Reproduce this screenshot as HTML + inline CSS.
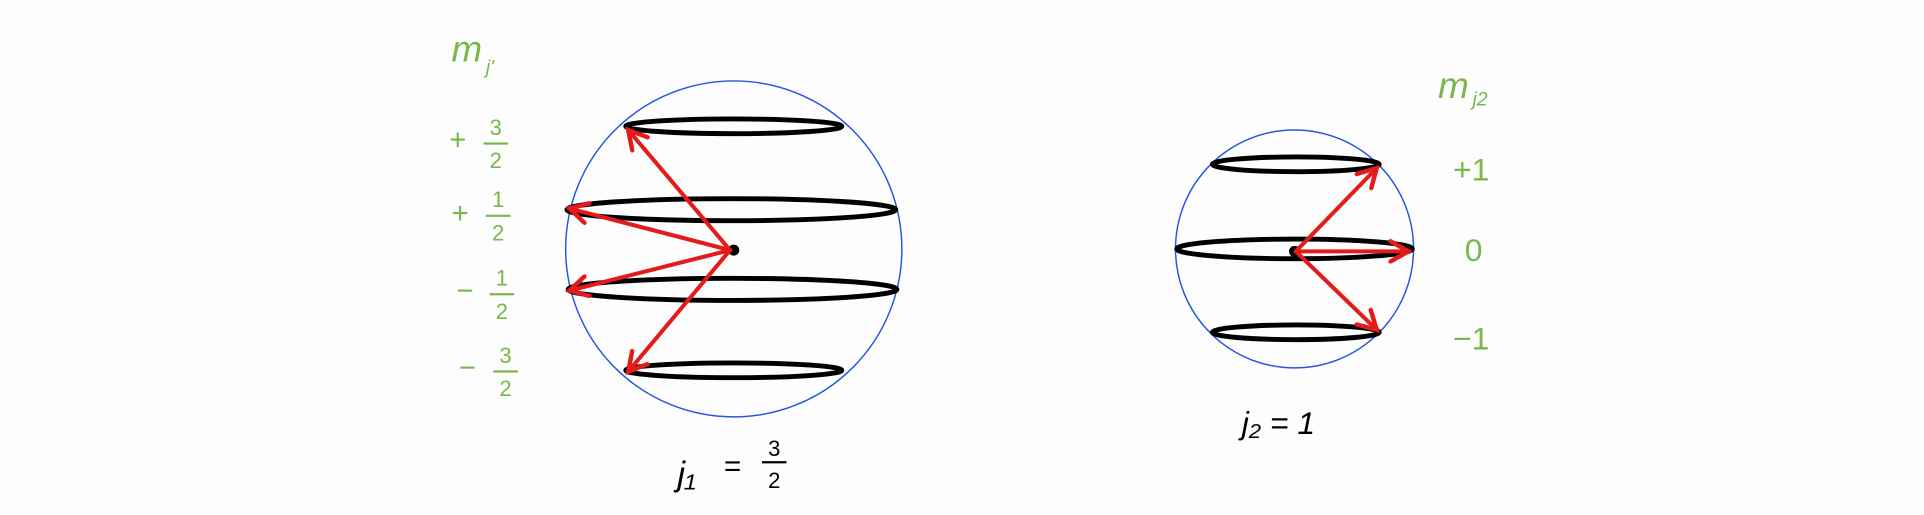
<!DOCTYPE html>
<html><head><meta charset="utf-8"><style>
html,body{margin:0;padding:0;background:#fdfdfd;}
svg{display:block;}
text{font-family:"Liberation Sans",sans-serif;}
.g{fill:#78b84a;}
</style></head><body>
<svg width="1924" height="515" viewBox="0 0 1568 420" preserveAspectRatio="none">
<defs>
<marker id="ah" viewBox="0 0 12 12" refX="10" refY="6" markerWidth="6" markerHeight="6" orient="auto">
<path d="M1,1 L10,6 L1,11" fill="none" stroke="#e41b1b" stroke-width="2.2" stroke-linecap="round"/>
</marker>
</defs>
<!-- left sphere -->
<g>
<circle cx="598" cy="203" r="137" fill="none" stroke="#2456e6" stroke-width="1.2"/>
<ellipse cx="598" cy="103" rx="88" ry="6" fill="none" stroke="#000" stroke-width="4"/>
<ellipse cx="596" cy="171" rx="134" ry="9" fill="none" stroke="#000" stroke-width="4"/>
<ellipse cx="597" cy="236" rx="134" ry="9" fill="none" stroke="#000" stroke-width="4"/>
<ellipse cx="598" cy="302" rx="88" ry="6" fill="none" stroke="#000" stroke-width="4"/>
<circle cx="598" cy="204" r="4.5" fill="#000"/>
<g stroke="#e41b1b" stroke-width="3.3" fill="none" stroke-linecap="round" marker-end="url(#ah)">
<line x1="595" y1="204" x2="512" y2="106"/>
<line x1="595" y1="204" x2="464" y2="170"/>
<line x1="595" y1="204" x2="464" y2="237"/>
<line x1="595" y1="204" x2="512" y2="303"/>
</g>
</g>
<!-- right sphere -->
<g>
<circle cx="1055" cy="203" r="97" fill="none" stroke="#2456e6" stroke-width="1.2"/>
<ellipse cx="1056" cy="134" rx="68" ry="6" fill="none" stroke="#000" stroke-width="4"/>
<ellipse cx="1055" cy="203" rx="96" ry="8" fill="none" stroke="#000" stroke-width="4"/>
<ellipse cx="1056" cy="271" rx="68" ry="6" fill="none" stroke="#000" stroke-width="4"/>
<circle cx="1055" cy="205" r="4.5" fill="#000"/>
<g stroke="#e41b1b" stroke-width="3.3" fill="none" stroke-linecap="round" marker-end="url(#ah)">
<line x1="1056" y1="205" x2="1122" y2="137"/>
<line x1="1056" y1="205" x2="1148" y2="205"/>
<line x1="1056" y1="205" x2="1122" y2="269"/>
</g>
</g>
<!-- left labels -->
<g>
<text x="368" y="50" font-size="30" class="g" font-style="italic">m</text>
<text x="396" y="60" font-size="16" class="g" font-style="italic">j'</text>
<g text-anchor="middle">
<text x="373" y="122" font-size="24" class="g">+</text><text x="404" y="110" font-size="18" class="g">3</text><text x="404" y="137" font-size="18" class="g">2</text>
<text x="375" y="182" font-size="24" class="g">+</text><text x="406" y="169" font-size="18" class="g">1</text><text x="406" y="196" font-size="18" class="g">2</text>
<text x="379" y="245" font-size="24" class="g">−</text><text x="409" y="233" font-size="18" class="g">1</text><text x="409" y="260" font-size="18" class="g">2</text>
<text x="381" y="308" font-size="24" class="g">−</text><text x="412" y="296" font-size="18" class="g">3</text><text x="412" y="323" font-size="18" class="g">2</text>
</g>
<g stroke="#78b84a" stroke-width="1.8">
<line x1="394" y1="117" x2="414" y2="117"/><line x1="396" y1="176" x2="416" y2="176"/>
<line x1="399" y1="240" x2="419" y2="240"/><line x1="402" y1="303" x2="422" y2="303"/>
</g>
</g>
<!-- right labels -->
<g>
<text x="1172" y="80" font-size="30" class="g" font-style="italic">m</text>
<text x="1200" y="86" font-size="16" class="g" font-style="italic">j2</text>
<text x="1199" y="147" font-size="26" class="g" text-anchor="middle">+1</text>
<text x="1201" y="213" font-size="26" class="g" text-anchor="middle">0</text>
<text x="1199" y="285" font-size="26" class="g" text-anchor="middle">−1</text>
</g>
<!-- bottom labels -->
<g>
<text x="552" y="396" font-size="28" fill="#000" font-style="italic">j₁</text>
<text x="597" y="388" font-size="24" fill="#000" text-anchor="middle">=</text>
<text x="631" y="372" font-size="18" fill="#000" text-anchor="middle">3</text>
<line x1="621" y1="377" x2="641" y2="377" stroke="#000" stroke-width="1.8"/>
<text x="631" y="398" font-size="18" fill="#000" text-anchor="middle">2</text>
</g>
<text x="1012" y="354" font-size="26" fill="#000" font-style="italic">j₂ = 1</text>
</svg>
</body></html>
